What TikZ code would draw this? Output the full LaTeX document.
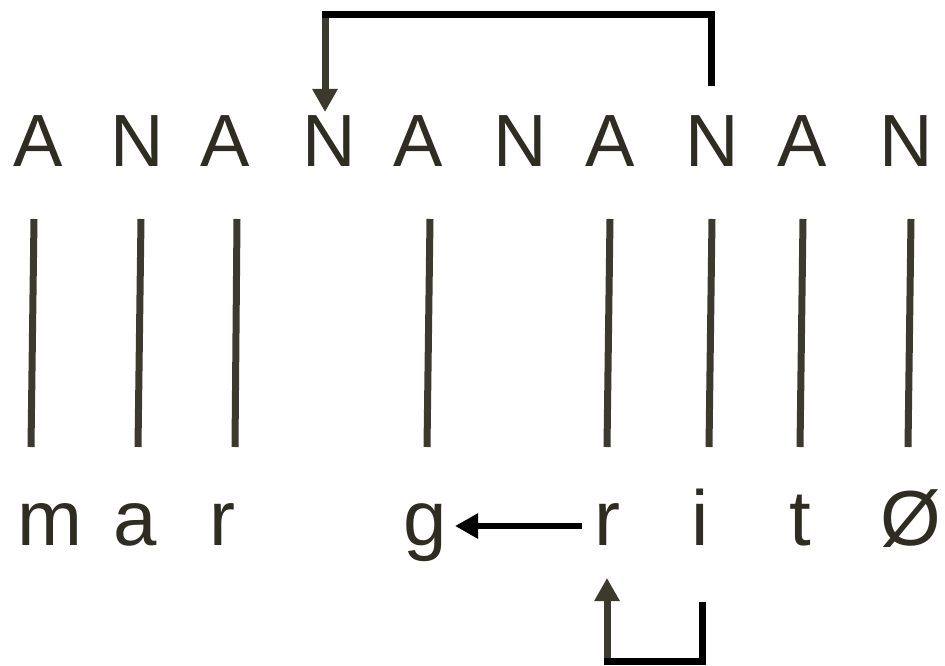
\documentclass[tikz,border=0pt]{standalone}
\usepackage{fontspec}
\setmainfont{Liberation Sans}
\usetikzlibrary{arrows.meta}
\definecolor{ink}{HTML}{2F2C22}
\definecolor{olive}{HTML}{3C392D}
\tikzset{
  upper/.style={anchor=base, inner sep=0pt, text=ink, font=\fontsize{74}{80}\selectfont},
  lower/.style={anchor=base, inner sep=0pt, text=ink, font=\fontsize{78}{84}\selectfont},
  link/.style={draw=olive, line width=7pt},
  bracket/.style={draw=black, line width=7pt},
  olivearrow/.style={draw=olive, line width=7pt, -{Triangle[width=24pt,length=23pt]}},
  blackarrow/.style={draw=black, line width=6pt, -{Triangle[width=24pt,length=23pt]}}
}
\begin{document}
\begin{tikzpicture}[x=1pt,y=-1pt]
\useasboundingbox (0,0) rectangle (945,666);
% upper row
\node[upper] (u1) at (38,167) {A};
\node[upper] (u2) at (137,167) {N};
\node[upper] (u3) at (225,167) {A};
\node[upper] (u4) at (329,167) {N};
\node[upper] (u5) at (418,167) {A};
\node[upper] (u6) at (520,167) {N};
\node[upper] (u7) at (610,167) {A};
\node[upper] (u8) at (712,167) {N};
\node[upper] (u9) at (802,167) {A};
\node[upper] (u10) at (906,167) {N};
% lower row
\node[lower] (l1) at (50,545) {m};
\node[lower] (l2) at (135,545) {a};
\node[lower] (l3) at (222,545) {r};
\node[lower] (l4) at (425,545) {g};
\node[lower] (l5) at (607,545) {r};
\node[lower] (l6) at (700,545) {i};
\node[lower] (l7) at (800,545) {t};
\node[lower] (l8) at (911,545) {Ø};
% vertical links
\foreach \i/\xt/\xb in {1/34/31, 2/141/138, 3/237/235, 4/430/427, 5/610/607, 6/712/709, 7/803/800, 8/911/908}{
  \coordinate (vt\i) at (\xt,219);
  \coordinate (vb\i) at (\xb,447);
  \draw[link] (vt\i) -- (vb\i);
}
% top bracket
\coordinate (ta) at (711,86);
\coordinate (tb) at (711,15);
\coordinate (tc) at (325,15);
\coordinate (td) at (325,112);
\draw[bracket] (ta) -- (tb) -- ([xshift=-3.5pt]tc);
\draw[olivearrow] ([yshift=-3.5pt]tc) -- (td);
% g <- r arrow
\coordinate (ga) at (582,526);
\coordinate (gb) at (455,526);
\draw[blackarrow] (ga) -- (gb);
% bottom bracket
\coordinate (ba) at (702,602);
\coordinate (bb) at (702,661);
\coordinate (bc) at (607,661);
\coordinate (bd) at (607,578);
\draw[bracket] (ba) -- (bb) -- ([xshift=-3.5pt]bc);
\draw[olivearrow] ([yshift=3.5pt]bc) -- (bd);
\end{tikzpicture}
\end{document}
